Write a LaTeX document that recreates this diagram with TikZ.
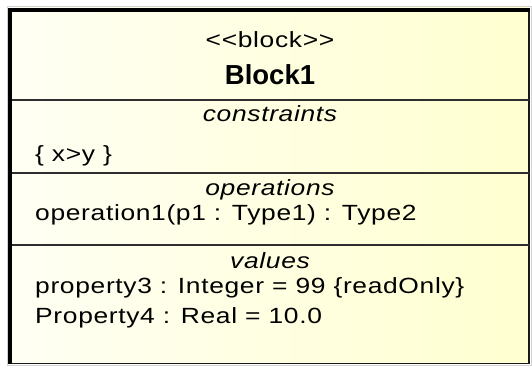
\documentclass[tikz,border=0pt]{standalone}
\usepackage{fontspec}
\setmainfont{Liberation Sans}
\newfontfamily\blockfont[FakeStretch=1.2,LetterSpace=3]{Liberation Sans}
\definecolor{creamlight}{HTML}{FFFFF4}
\definecolor{creamdark}{HTML}{FFFFD0}
\definecolor{edge}{HTML}{1A1A1A}
\definecolor{divider}{HTML}{2E2E2E}
\begin{document}
\begin{tikzpicture}[x=1pt,y=-1pt,
  txt/.style={inner sep=0pt, text=black, font=\blockfont\fontsize{22}{26}\selectfont},
  member/.style={txt, anchor=base west},
  heading/.style={txt, anchor=base, font=\blockfont\itshape\fontsize{22}{26}\selectfont},
  title/.style={inner sep=0pt, anchor=base, text=black, font=\bfseries\fontsize{27.5}{30}\selectfont},
  sep/.style={draw=divider, line width=1.6pt}]
\useasboundingbox (0,0) rectangle (532,366);
\fill[white] (0,0) rectangle (532,366);
% faint outline round the block
\draw[black!18, line width=1pt] (7,7) rectangle (531,365);
% body with its yellowish gradient
\shade[left color=creamlight, right color=creamdark] (8,8) rectangle (529.5,363.5);
% frame: heavy left and top, light right and bottom
\draw[edge, line width=1.6pt] (529,8) -- (529,363.5) -- (8,363.5);
\draw[black, line width=4pt] (10,364) -- (10,10) -- (530,10);
% compartment dividers
\draw[sep] (12,100) -- (529,100);
\draw[sep] (12,173) -- (529,173);
\draw[sep] (12,245) -- (529,245);
% header
\node[txt, anchor=base] (stereo) at (270,48) {<{}<block>{}>};
\node[title] (name) at (270,85) {Block1};
% constraints
\node[heading] (hcons) at (270,122) {constraints};
\node[member] (cons) at (35,162) {\{ x>y \}};
% operations
\node[heading] (hops) at (270,195) {operations};
\node[member] (op1) at (35,220) {operation1(p1 : Type1) : Type2};
% values
\node[heading] (hvals) at (270,268) {values};
\node[member] (prop3) at (35,293) {property3 : Integer = 99 \{readOnly\}};
\node[member] (prop4) at (35,323) {Property4 : Real = 10.0};
\end{tikzpicture}
\end{document}
